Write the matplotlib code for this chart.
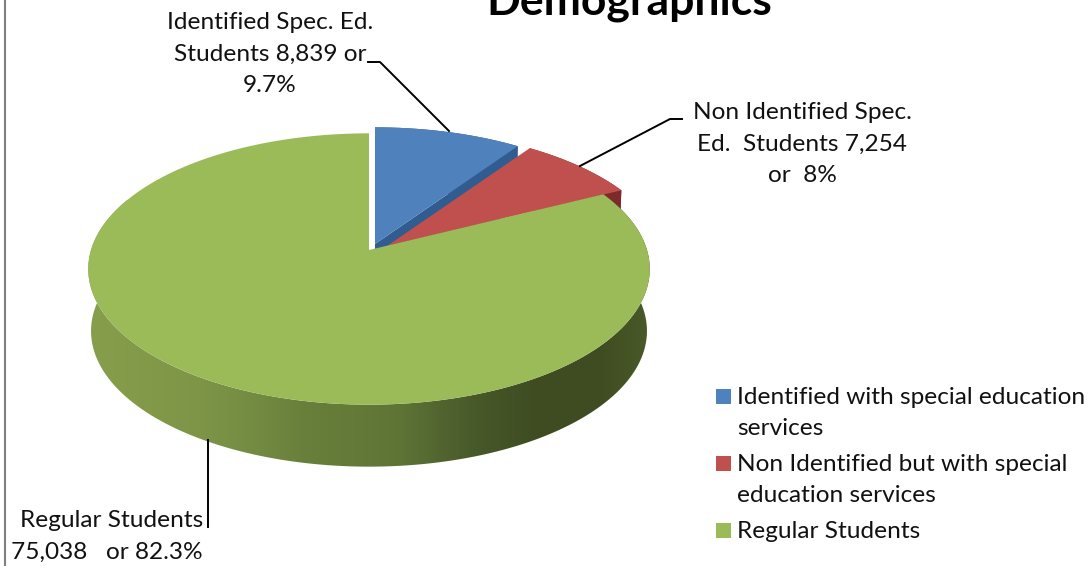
#!/usr/bin/env python3
"""
Demographics 3D pie, drawn by hand since matplotlib has no tilted pie
"""

import matplotlib
matplotlib.use('Agg')
import matplotlib.pyplot as plt
from matplotlib.colors import LinearSegmentedColormap
from matplotlib.patches import Polygon, Rectangle
import numpy as np

categories = ['Identified with special education\nservices',
              'Non Identified but with special\neducation services',
              'Regular Students']
students = [8839, 7254, 75038]
slice_labels = ['Identified Spec. Ed.\nStudents 8,839 or\n9.7%',
                'Non Identified Spec.\nEd.  Students 7,254\nor  8%',
                'Regular Students\n75,038   or 82.3%']
title = 'Demographics'

plt.rcParams['font.family'] = ['Lato', 'DejaVu Sans']

top_colors = ['#4f81bd', '#c0504d', '#9bbb59']
side_colors = ['#315c8f', '#7d2b2a', '#5f7a33']

# pie geometry in pixels
apexes = [(375, 244), (387, 246), (369, 250)]
RX = 278
RY = 133
PERSP = 0.14
DEPTH = 62

fig, ax = plt.subplots(1, 1, figsize=(10.92, 5.66), dpi=100)
ax.set_position([0, 0, 1, 1])
ax.set_xlim(0, 1092)
ax.set_ylim(566, 0)
ax.axis('off')


def rim(apex, a0, a1):
    """Perspective rim points, angles in degrees clockwise from 12 o'clock"""
    t = np.radians(np.linspace(a0, a1, 300))
    u, v = np.sin(t), np.cos(t)
    w = 1 + PERSP * v
    return np.column_stack([apex[0] + RX * u / w, apex[1] - RY * v / w])


def lower(pts, apex):
    """Same points moved down by the thickness of the pie"""
    out = pts.copy()
    out[:, 0] = apex[0] + (pts[:, 0] - apex[0]) * 0.99
    out[:, 1] = pts[:, 1] + DEPTH
    return out


shares = np.array(students) / sum(students)
edges = np.concatenate([[0], np.cumsum(shares) * 360])

# blue and red first, green hides whatever is below it
for i in range(3):
    apex = apexes[i]
    arc = rim(apex, edges[i], edges[i + 1])
    ap = np.array([apex])
    if i < 2:
        wall = np.vstack([arc, lower(arc, apex)[::-1]])
        ax.add_patch(Polygon(wall, facecolor=side_colors[i], linewidth=0, zorder=2 + i))
        cut = np.vstack([ap, arc[-1:], lower(arc[-1:], apex), ap + [0, DEPTH]])
        ax.add_patch(Polygon(cut, facecolor=side_colors[i], linewidth=0, zorder=2 + i))
    else:
        # outer wall of the green slice with the shaded gradient
        wall = np.vstack([arc, lower(arc, apex)[::-1]])
        grad = LinearSegmentedColormap.from_list('wall', [
            (0.00, '#879e4c'), (0.20, '#7e9548'), (0.29, '#748c42'),
            (0.38, '#68803b'), (0.55, '#5f7536'), (0.625, '#526530'),
            (0.70, '#465728'), (0.80, '#3f4c22'), (0.91, '#3f4c22'),
            (1.00, '#4a5a28')])
        im = ax.imshow(np.linspace(0, 1, 256).reshape(1, -1), cmap=grad, aspect='auto',
                       extent=(88, 651, 480, 200), zorder=4)
        clip = Polygon(wall, transform=ax.transData, facecolor='none', linewidth=0)
        ax.add_patch(clip)
        im.set_clip_path(clip)
        ax.set_xlim(0, 1092)
        ax.set_ylim(566, 0)
    top = np.vstack([ap, arc])
    ax.add_patch(Polygon(top, facecolor=top_colors[i], edgecolor='none', linewidth=0, zorder=2.5 + i * 1.5 if i < 2 else 5))

# chart frame, only the left side is inside the crop
ax.plot([5, 5], [0, 566], color='#7f7f7f', linewidth=1.5, zorder=1)

# title runs off the top edge
ax.text(629, 14, title, fontsize=32, fontweight='bold', ha='center', va='baseline', color='black')

# data labels
label_size = 17.6
label_gap = 1.63
ax.text(270, 54, slice_labels[0], fontsize=label_size, ha='center', va='center', linespacing=label_gap, color='#111111')
ax.text(802, 144, slice_labels[1], fontsize=label_size, ha='center', va='center', linespacing=label_gap, color='#111111')
ax.text(203, 536, slice_labels[2], fontsize=label_size, ha='right', va='center', linespacing=label_gap, color='#111111')

# leader lines
ax.plot([368, 380, 449], [62, 62, 131], color='black', linewidth=1.4, zorder=6)
ax.plot([682, 670, 580], [119, 119, 166], color='black', linewidth=1.4, zorder=6)
ax.plot([208, 208], [440, 527], color='black', linewidth=1.4, zorder=6)

# legend
swatch_y = [397, 464, 531]
text_y = [413, 480, 531]
for name, color, y0, y1 in zip(categories, top_colors, swatch_y, text_y):
    ax.add_patch(Rectangle((716, y0 - 8), 15, 15, facecolor=color, linewidth=0))
    ax.text(737, y1, name, fontsize=label_size, va='center', ha='left', linespacing=label_gap, color='#111111')

fig.savefig('out.png', dpi=100, facecolor='white')
